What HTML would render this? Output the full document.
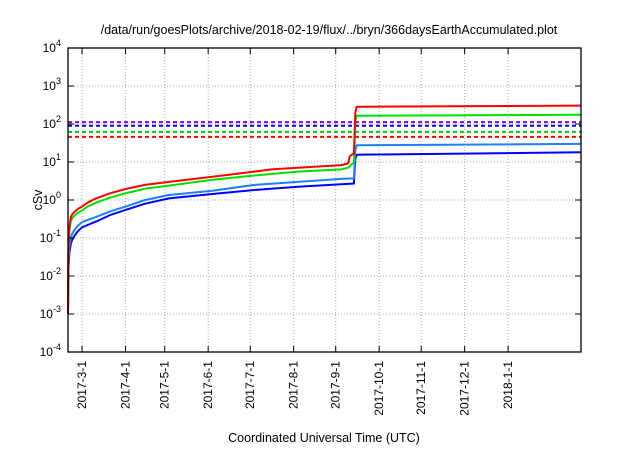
<!DOCTYPE html>
<html><head><meta charset="utf-8"><style>
body{margin:0;background:#fff}
svg text{font-family:"Liberation Sans",sans-serif;fill:#000}
</style></head><body>
<svg id="chart" width="640" height="448" xmlns="http://www.w3.org/2000/svg">
<text x="329" y="34" font-size="12.5" text-anchor="middle">/data/run/goesPlots/archive/2018-02-19/flux/../bryn/366daysEarthAccumulated.plot</text>
<text x="42" y="200" font-size="12.5" text-anchor="middle" transform="rotate(-90 42 200)">cSv</text>
<text x="324" y="442" font-size="12.5" text-anchor="middle">Coordinated Universal Time (UTC)</text>
<g id="grid"></g><g id="lines"></g><g id="axes"></g>
</svg>
<script>
const monthLabels=["2017-3-1","2017-4-1","2017-5-1","2017-6-1","2017-7-1","2017-8-1","2017-9-1","2017-10-1","2017-11-1","2017-12-1","2018-1-1"];
const monthDays=[10,41,69,100,130,161,191,222,252,283,314];
const yExps=[-4,-3,-2,-1,0,1,2,3,4];
const thresholds=[112,90,62,46];
const thresholdColors=["#9400d3","#0000ff","#00cc00","#ff0000"];
const redDays=[0,0.3,1,2,3,5,7,10,14,20,30,41,55,72,103,133,145,164,195,200,201,203,204,205,206,366];
const redVals=[0.001,0.05,0.2,0.35,0.42,0.5,0.58,0.67,0.85,1.1,1.5,1.95,2.5,3.0,4.1,5.6,6.4,7.1,8.3,9.2,14,16,16,200,285,305];
const greenDays=[0,0.3,1,2,3,5,7,10,14,20,30,41,55,72,103,133,164,195,200,203,204,205,206,366];
const greenVals=[0.001,0.04,0.15,0.28,0.33,0.4,0.46,0.53,0.68,0.85,1.15,1.5,2.0,2.4,3.4,4.4,5.6,6.4,7.1,9.2,9.2,120,165,175];
const lblueDays=[0,0.3,1,2,3,5,7,10,14,20,30,41,55,72,103,133,164,195,203,204,205,206,366];
const lblueVals=[0.001,0.02,0.06,0.1,0.13,0.17,0.21,0.26,0.3,0.36,0.5,0.67,1.0,1.35,1.76,2.5,3.0,3.6,3.7,3.7,20,27.5,30];
const blueDays=[0,0.3,1,2,3,5,7,10,14,20,30,41,55,72,103,133,164,195,203,204,205,206,366];
const blueVals=[0.001,0.015,0.04,0.07,0.09,0.12,0.15,0.19,0.22,0.27,0.4,0.55,0.8,1.1,1.44,1.83,2.24,2.6,2.7,2.7,12,15.6,18];

const L=68,R=581,T=48,B=352,D0=0,D1=366;
const X=d=>L+(d-D0)/(D1-D0)*(R-L);
const Y=v=>B-(Math.log10(v)+4)/8*(B-T);
const NS="http://www.w3.org/2000/svg";
function mk(tag,parent,attrs){const e=document.createElementNS(NS,tag);for(const k in attrs)e.setAttribute(k,attrs[k]);document.getElementById(parent).appendChild(e);return e;}
yExps.forEach((p,i)=>{const y=Y(Math.pow(10,p));
 if(i>0&&i<yExps.length-1){const g=mk("line","grid",{x1:L,x2:R,y1:y,y2:y,stroke:"#aaa","stroke-width":1,"stroke-dasharray":"1,2"});
 
 }
 const t1=mk("line","axes",{x1:L,x2:L+6,y1:y,y2:y,stroke:"#000"});
 
 
 mk("line","axes",{x1:R,x2:R-6,y1:y,y2:y,stroke:"#000"});
 const t=mk("text","axes",{x:61,y:y+4,"font-size":12,"text-anchor":"end"});
 
 
 t.innerHTML='10<tspan dy="-6" font-size="9">'+p+'</tspan>';
});
monthDays.forEach((d,i)=>{const x=X(d);
 const g=mk("line","grid",{x1:x,x2:x,y1:T,y2:B,stroke:"#aaa","stroke-width":1,"stroke-dasharray":"1,2"});
 
 
 const tk=mk("line","axes",{x1:x,x2:x,y1:B,y2:B-6,stroke:"#000"});
 
 
 mk("line","axes",{x1:x,x2:x,y1:T,y2:T+6,stroke:"#000"});
 const t=mk("text","axes",{x:x+4,y:361,"font-size":12,"text-anchor":"end",transform:"rotate(-90 "+(x+4)+" 361)"});
 
 
 t.textContent=monthLabels[i];
});
const fr=mk("rect","axes",{x:L,y:T,width:R-L,height:B-T,fill:"none",stroke:"#000","stroke-width":1.3});


thresholds.forEach((v,i)=>{const l=mk("line","lines",{x1:L,x2:R,y1:Y(v),y2:Y(v),stroke:thresholdColors[i],"stroke-width":2,"stroke-dasharray":"4,3"});
 
 });
[[blueDays,blueVals,"#0000ff","dark-blue-series"],[lblueDays,lblueVals,"#1a80ff","light-blue-series"],[greenDays,greenVals,"#00e000","green-series"],[redDays,redVals,"#ff0000","red-series"]].forEach(s=>{
 const pts=s[0].map((d,i)=>X(d).toFixed(1)+","+Y(s[1][i]).toFixed(1)).join(" ");
 const p=mk("polyline","lines",{points:pts,fill:"none",stroke:s[2],"stroke-width":2,"stroke-linejoin":"round"});
 
 
});
</script>
</body></html>
